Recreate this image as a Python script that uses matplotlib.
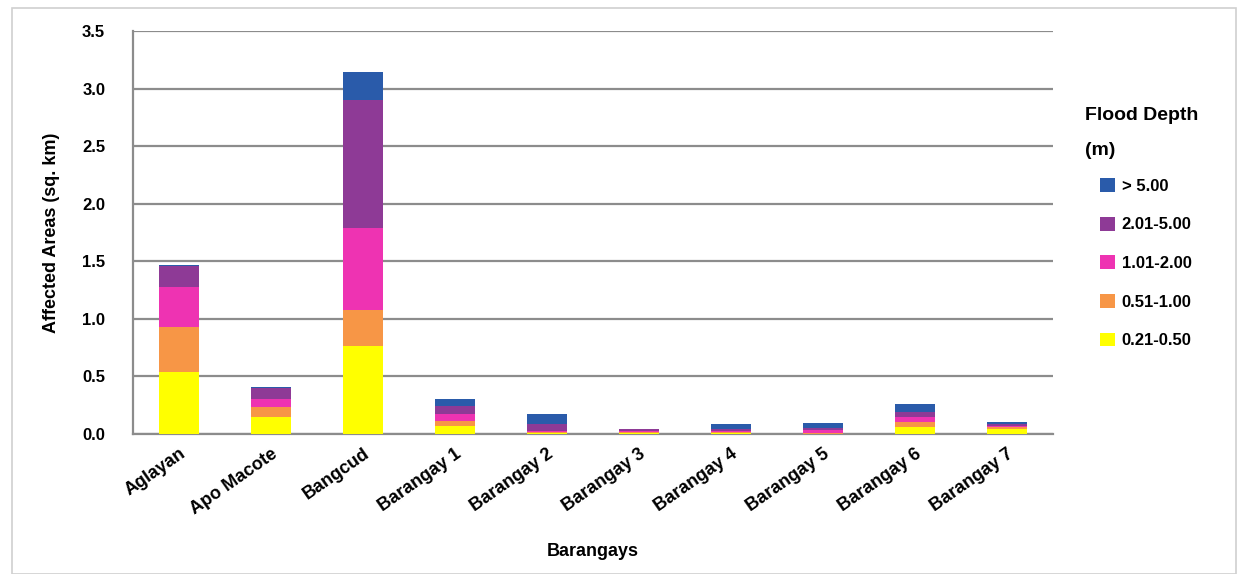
import matplotlib
matplotlib.use("Agg")
import matplotlib.pyplot as plt
import numpy as np
from matplotlib.patches import Rectangle

barangays = ["Aglayan", "Apo Macote", "Bangcud", "Barangay 1", "Barangay 2",
             "Barangay 3", "Barangay 4", "Barangay 5", "Barangay 6", "Barangay 7"]

depth_021_050 = [0.54, 0.15, 0.76, 0.066, 0.005, 0.005, 0.005, 0.003, 0.064, 0.045]
depth_051_100 = [0.385, 0.087, 0.315, 0.044, 0.015, 0.015, 0.012, 0.010, 0.043, 0.015]
depth_101_200 = [0.35, 0.067, 0.715, 0.064, 0.010, 0.010, 0.012, 0.020, 0.043, 0.013]
depth_201_500 = [0.185, 0.095, 1.11, 0.066, 0.057, 0.012, 0.015, 0.015, 0.044, 0.015]
depth_gt_500 = [0.012, 0.013, 0.24, 0.064, 0.090, 0.003, 0.043, 0.050, 0.066, 0.019]

series = [
    ("0.21-0.50", depth_021_050, "#FFFF00"),
    ("0.51-1.00", depth_051_100, "#F79646"),
    ("1.01-2.00", depth_101_200, "#EE33B2"),
    ("2.01-5.00", depth_201_500, "#8E3A96"),
    ("> 5.00", depth_gt_500, "#2A5BAA"),
]

plt.rcParams["font.family"] = ["Liberation Sans", "DejaVu Sans"]

W, H = 1243, 574
fig = plt.figure(figsize=(W / 100, H / 100), dpi=100)
ax = fig.add_axes([133 / W, 1 - 434 / H, 920 / W, 403 / H])

# outer chart frame
fig.patches.append(Rectangle((12 / W, 0.0), 1224 / W, 1 - 8 / H,
                             transform=fig.transFigure, fill=False,
                             edgecolor="#D0D0D0", linewidth=1.2))

x = np.arange(len(barangays))
bottom = np.zeros(len(barangays))
handles = []
for label, vals, color in series:
    h = ax.bar(x, vals, width=0.43, bottom=bottom, color=color,
               label=label, zorder=3)
    handles.append(h)
    bottom += np.array(vals)

ax.set_xlim(-0.5, len(barangays) - 0.5)
ax.set_ylim(0, 3.5)
ax.set_yticks(np.arange(0, 3.51, 0.5))
ax.set_yticklabels([f"{v:.1f}" for v in np.arange(0, 3.51, 0.5)],
                   fontsize=12, fontweight="bold")
ax.yaxis.grid(True, color="#8C8C8C", linewidth=1.6, zorder=0)
ax.set_axisbelow(True)
for s in ["top", "right"]:
    ax.spines[s].set_visible(False)
for s in ["left", "bottom"]:
    ax.spines[s].set_color("#8C8C8C")
    ax.spines[s].set_linewidth(1.6)
ax.tick_params(axis="y", length=0, pad=20)
ax.tick_params(axis="x", length=0, pad=8)

ax.set_xticks(x)
ax.set_xticklabels(barangays, rotation=35, ha="right", rotation_mode="anchor",
                   fontsize=13, fontweight="bold")

ax.set_xlabel("Barangays", fontsize=13, fontweight="bold", labelpad=18)
ax.set_ylabel("Affected Areas (sq. km)", fontsize=13, fontweight="bold",
              labelpad=16)

# legend title drawn on its own, with entries indented beneath it
fig.text(1085 / W, 1 - 115 / H, "Flood Depth", fontsize=14,
         fontweight="bold", va="center", ha="left")
fig.text(1085 / W, 1 - 150 / H, "(m)", fontsize=14,
         fontweight="bold", va="center", ha="left")

leg = fig.legend(handles[::-1], [s[0] for s in series][::-1],
                 loc="upper left", bbox_to_anchor=(1100 / W, 1 - 178 / H),
                 frameon=False, fontsize=12, handlelength=0.9,
                 handleheight=0.9, labelspacing=1.38, handletextpad=0.4,
                 borderpad=0, borderaxespad=0)
for t in leg.get_texts():
    t.set_fontweight("bold")

fig.savefig("out.png", dpi=100)
